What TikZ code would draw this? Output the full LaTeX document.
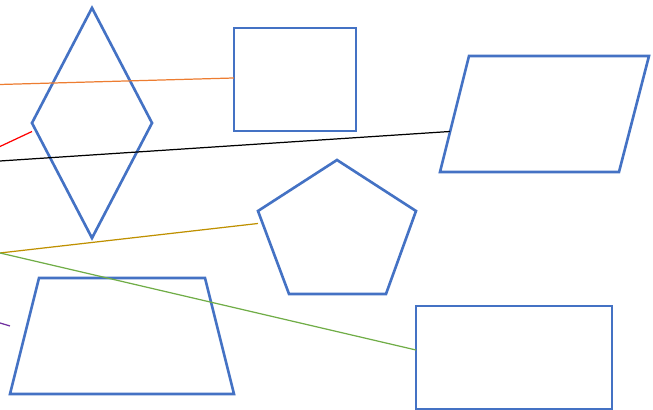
\documentclass[tikz,border=0pt]{standalone}
\usepackage{tikz}
\usetikzlibrary{shapes.geometric}
\usepackage{xcolor}
\definecolor{OfficeBlue}{HTML}{4472C4}
\definecolor{OfficeOrange}{HTML}{ED7D31}
\definecolor{OfficeRed}{HTML}{FF0000}
\definecolor{OfficeGold}{HTML}{BF9000}
\definecolor{OfficeGreen}{HTML}{70AD47}
\definecolor{OfficePurple}{HTML}{7030A0}

\begin{document}
\begin{tikzpicture}[
            x=0.01cm, y=-0.01cm,
            outline/.style={draw=OfficeBlue, line width=0.75pt, inner sep=0pt, outer sep=0pt},
            link/.style={line width=0.35pt}
        ]
            \useasboundingbox (0,0) rectangle (653,410);

            % Shapes
            \node[outline, diamond, minimum width=1.2cm, minimum height=2.3cm] (diamond) at (92,123) {};
            \node[outline, rectangle, minimum width=1.22cm, minimum height=1.03cm] (square) at (295,79.5) {};
            \node[outline, rectangle, minimum width=1.96cm, minimum height=1.03cm] (box) at (514,357.5) {};
            \draw[outline] (469,56) -- (649,56) -- (619,172) -- (440,172) -- cycle;
            \draw[outline] (337,160) -- (416,211) -- (386,294) -- (289,294) -- (258,211) -- cycle;
            \draw[outline] (39,278) -- (205,278) -- (234,394) -- (10,394) -- cycle;

            % End points
            \coordinate (orangeStart) at (0,84.5);
            \coordinate (redStart) at (0,146.5);
            \coordinate (redEnd) at (32,131.5);
            \coordinate (blackStart) at (0,161);
            \coordinate (slantEdge) at (450,131.5);
            \coordinate (fork) at (0,253);
            \coordinate (pentagonEdge) at (258,223.5);
            \coordinate (purpleStart) at (0,323);
            \coordinate (purpleEnd) at (10,326);

            % Lines
            \draw[link, OfficeOrange] (orangeStart) -- (square.west |- 0,78);
            \draw[link, OfficeRed] (redStart) -- (redEnd);
            \draw[link, black] (blackStart) -- (slantEdge);
            \draw[link, OfficeGold] (fork) -- (pentagonEdge);
            \draw[link, OfficeGreen] (fork) -- (box.west |- 0,350);
            \draw[link, OfficePurple] (purpleStart) -- (purpleEnd);
        \end{tikzpicture}
\end{document}
